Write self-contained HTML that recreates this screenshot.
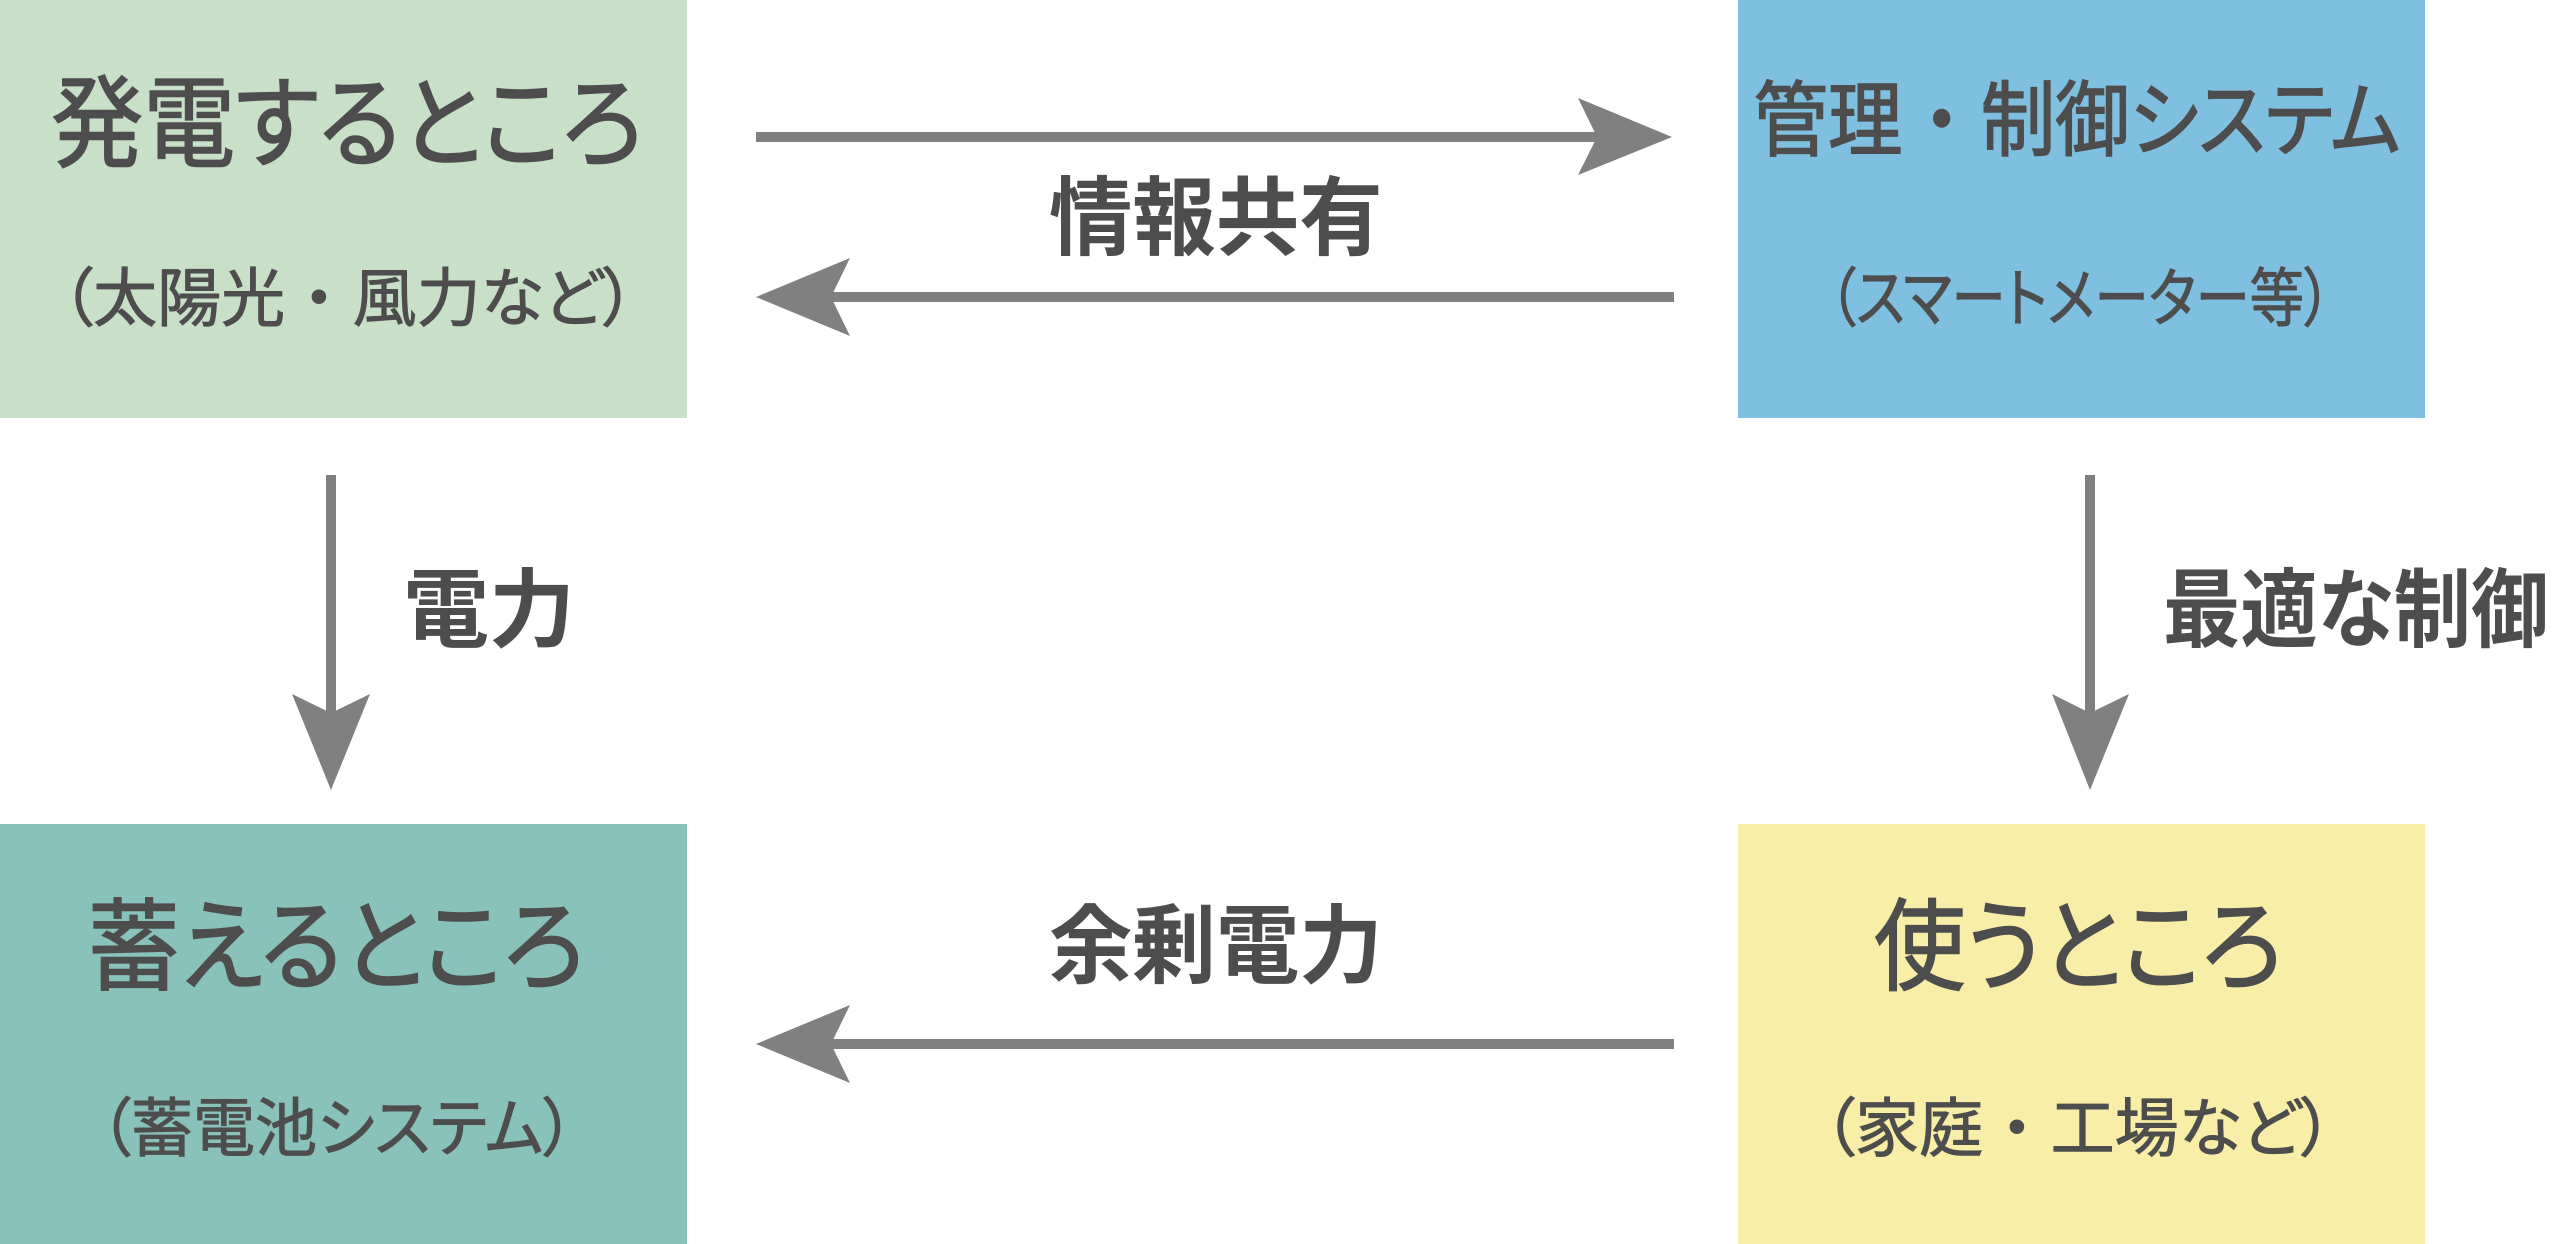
<!DOCTYPE html>
<html>
<head>
<meta charset="utf-8">
<style>
html,body{margin:0;padding:0;}
body{width:2560px;height:1244px;position:relative;overflow:hidden;background:#ffffff;
font-family:"Liberation Sans","Noto Sans CJK JP",sans-serif;color:#4d4d4d;}
.box{position:absolute;width:687px;height:418px;}
.t{position:absolute;white-space:nowrap;text-align:center;line-height:1;width:1000px;
font-family:"Liberation Sans","Noto Sans CJK JP",sans-serif;font-feature-settings:"palt";
transform-origin:50% 50%;}
.big{-webkit-text-stroke:1.6px #4d4d4d;}
.sub{-webkit-text-stroke:1px #4d4d4d;}
.lab{position:absolute;white-space:nowrap;line-height:1;font-weight:700;
font-family:"Liberation Sans","Noto Sans CJK JP",sans-serif;font-feature-settings:"palt";
transform-origin:0 50%;}
svg{position:absolute;left:0;top:0;}
</style>
</head>
<body>
<div class="box" style="left:0;top:0;background:#c9e0c8;"></div>
<div class="box" style="left:1738px;top:0;background:#7fbfe0;"></div>
<div class="box" style="left:0;top:824px;height:420px;background:#89c2bb;"></div>
<div class="box" style="left:1738px;top:824px;height:420px;background:#f8eea8;"></div>

<svg width="2560" height="1244" viewBox="0 0 2560 1244">
  <g fill="#808080" stroke="none">
    <rect x="756" y="132" width="845" height="10"/>
    <polygon points="1672,137 1578,98 1597,137 1578,175"/>
    <rect x="829" y="292" width="845" height="10"/>
    <polygon points="756,297 850,258 831,297 850,336"/>
    <rect x="829" y="1039" width="845" height="10"/>
    <polygon points="756,1044 850,1005 831,1044 850,1083"/>
    <rect x="326" y="475" width="10" height="240"/>
    <polygon points="331,790 292,694 331,713 370,694"/>
    <rect x="2085" y="475" width="10" height="240"/>
    <polygon points="2090,790 2052,694 2090,713 2129,694"/>
  </g>
</svg>

<div class="t big" style="left:-153px;top:75px;font-size:100px;transform:scaleX(0.92);">発電するところ</div>
<div class="t sub" style="left:-152px;top:267px;font-size:64px;">（太陽光 ・ 風力など）</div>

<div class="t big" style="left:1577px;top:81px;font-size:82px;transform:scaleX(0.907);">管理 ・ 制御システム</div>
<div class="t sub" style="left:1580px;top:267px;font-size:64px;transform:scaleX(0.85);">（スマートメーター等）</div>

<div class="t big" style="left:-164px;top:898px;font-size:100px;transform:scaleX(0.92);">蓄えるところ</div>
<div class="t sub" style="left:-163px;top:1097px;font-size:64px;transform:scaleX(0.97);">（蓄電池システム）</div>

<div class="t big" style="left:1578px;top:898px;font-size:100px;transform:scaleX(0.916);">使うところ</div>
<div class="t sub" style="left:1578px;top:1097px;font-size:64px;">（家庭 ・ 工場など）</div>

<div class="lab" style="left:1049px;top:176px;font-size:86px;transform:scaleX(0.97);">情報共有</div>
<div class="lab" style="left:403px;top:568px;font-size:86px;">電力</div>
<div class="lab" style="left:2163px;top:568px;font-size:86px;transform:scaleX(0.9);">最適な制御</div>
<div class="lab" style="left:1049px;top:904px;font-size:86px;transform:scaleX(0.97);">余剰電力</div>
</body>
</html>
